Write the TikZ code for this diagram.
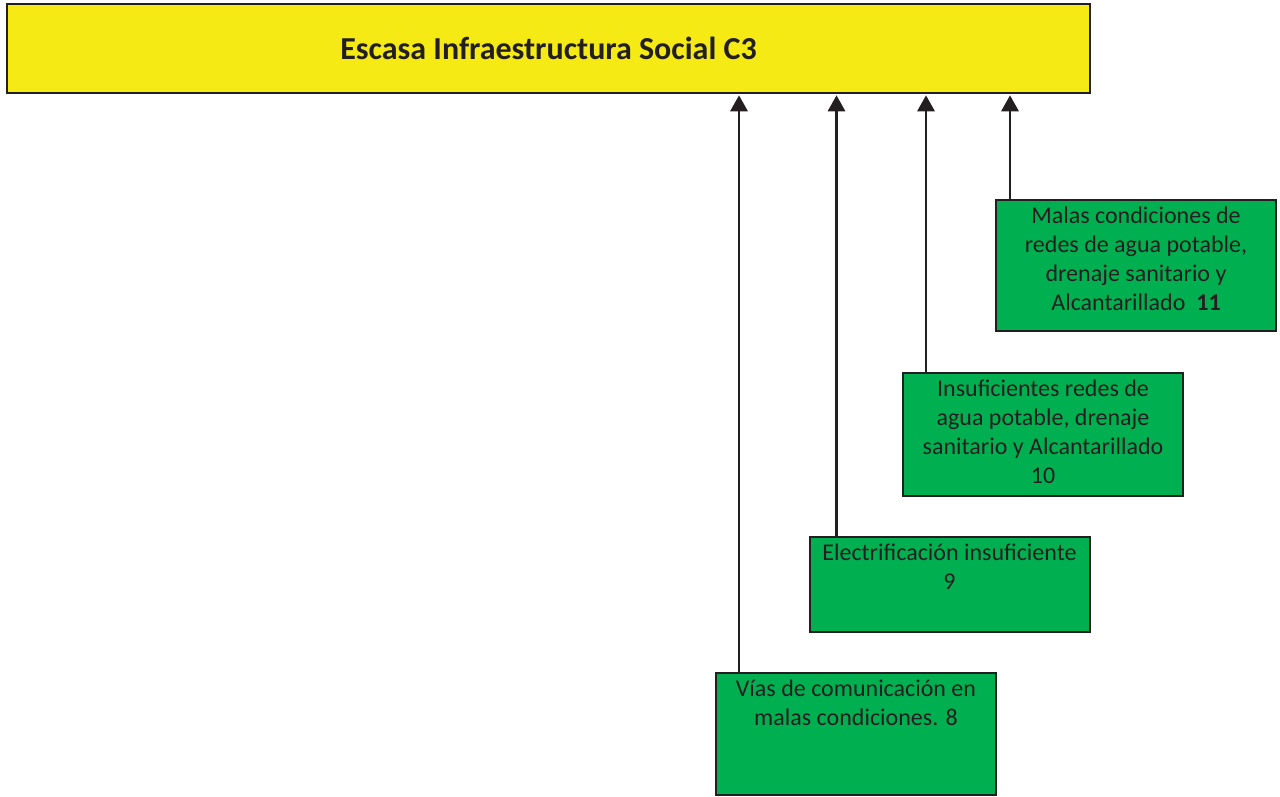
\documentclass[tikz,border=0pt]{standalone}
\usepackage{fontspec}
\setmainfont{Carlito}
\usetikzlibrary{arrows.meta}
\definecolor{amarillo}{RGB}{245,234,20}
\definecolor{verde}{RGB}{0,176,80}
\definecolor{tinta}{RGB}{35,31,32}

\begin{document}
\begin{tikzpicture}[x=0.75pt,y=-0.75pt]%
  \tikzstyle{boxt}=[rectangle,draw=tinta,line width=1.5pt,fill=amarillo,minimum width=812pt,minimum height=66.75pt,text=tinta,font=\fontsize{24}{28}\selectfont\bfseries]
  \tikzstyle{boxc}=[rectangle,draw=tinta,line width=1.5pt,fill=verde,minimum width=210pt]
  \tikzstyle{txtc}=[anchor=north,align=center,text=tinta,inner xsep=4pt,inner ysep=6pt,font=\fontsize{18}{21.75}\selectfont]
  \tikzstyle{flecha}=[-{Triangle[width=13pt,length=12pt]},line width=1.6pt,draw=tinta,shorten >=1pt]
  \useasboundingbox (0,0) rectangle (1280,796);
  \node(0)[boxt] at (548.5,48.5) {Escasa Infraestructura Social C3};
  \node(11)[boxc,minimum height=98.25pt] at (1136,265.5) {};
  \node(10)[boxc,minimum height=92.25pt] at (1043,434.5) {};
  \node(9)[boxc,minimum height=71.25pt] at (949.5,584.5) {};
  \node(8)[boxc,minimum height=91.5pt] at (856,734) {};
  \node(11t)[txtc] at (11.north) {Malas condiciones de\\redes de agua potable,\\drenaje sanitario y\\Alcantarillado\ \ \textbf{11}};
  \node(10t)[txtc] at (10.north) {Insuficientes redes de\\agua potable, drenaje\\sanitario y Alcantarillado\\10};
  \node(9t)[txtc] at (9.north) {Electrificación insuficiente\\9};
  \node(8t)[txtc] at (8.north) {Vías de comunicación en\\malas condiciones. 8};
  % puntos de salida de las flechas
  \coordinate(11a) at ([xshift=11.25pt]11.north west);
  \coordinate(10a) at ([xshift=18pt]10.north west);
  \coordinate(9a) at ([xshift=21pt]9.north west);
  \coordinate(8a) at ([xshift=18pt]8.north west);
  \draw[flecha] (11a) -- (11a |- 0.south);
  \draw[flecha] (10a) -- (10a |- 0.south);
  \draw[flecha] (9a) -- (9a |- 0.south);
  \draw[flecha] (8a) -- (8a |- 0.south);
\end{tikzpicture}
\end{document}
